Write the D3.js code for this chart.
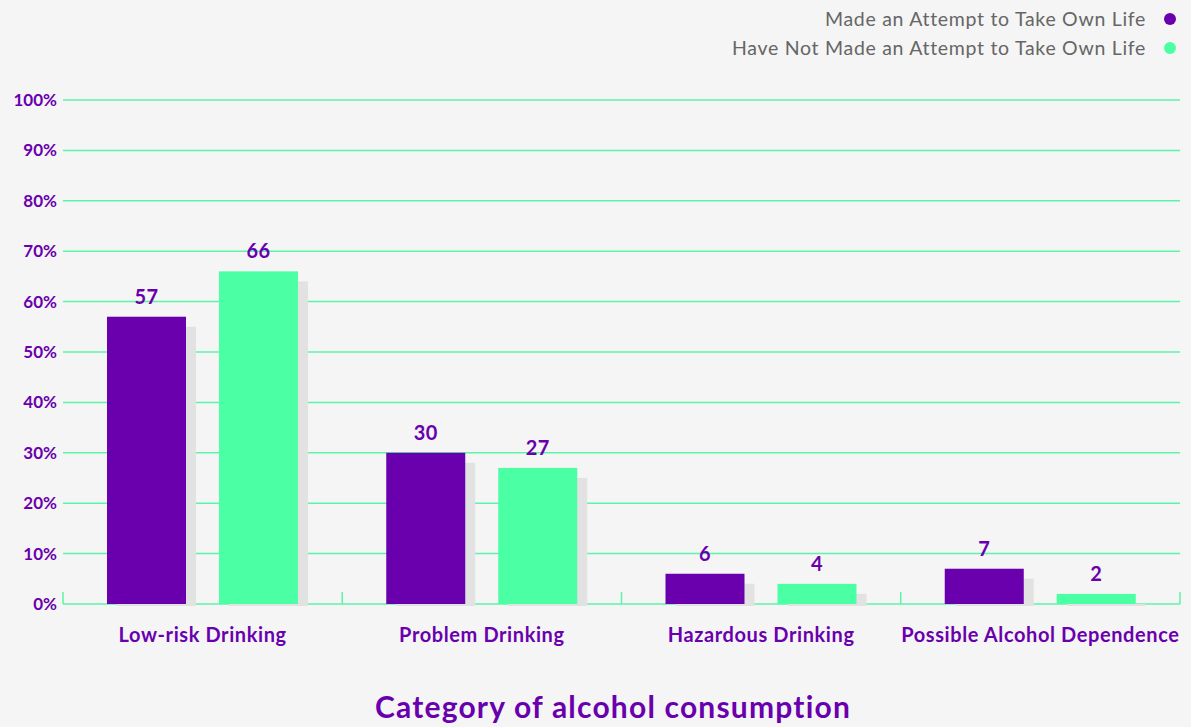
<!DOCTYPE html>
<html>
<head>
<meta charset="utf-8">
<script src="https://cdn.jsdelivr.net/npm/d3@7"></script>
<style>
  html, body { margin: 0; padding: 0; background: #f5f5f5; }
  svg { display: block; font-family: Lato, "Open Sans", sans-serif; }
</style>
</head>
<body>
<svg id="chart"></svg>
<script>
// data
const categories = ["Low-risk Drinking", "Problem Drinking", "Hazardous Drinking", "Possible Alcohol Dependence"];
const seriesNames = ["Made an Attempt to Take Own Life", "Have Not Made an Attempt to Take Own Life"];
const attempted = [57, 30, 6, 7];
const notAttempted = [66, 27, 4, 2];
const yTicks = [0, 10, 20, 30, 40, 50, 60, 70, 80, 90, 100];

const W = 1191, H = 727;
const purple = "#6a00ad", green = "#4bffa4", gridCol = "#5cf5a8", shadowCol = "#e2e2e2";

const svg = d3.select("#chart").attr("width", W).attr("height", H);
svg.append("rect").attr("width", W).attr("height", H).attr("fill", "#f5f5f5");

const plotL = 63, plotR = 1180, plotT = 100, plotB = 604;

const x = d3.scaleBand().domain(categories).range([plotL, plotR]).padding(0);
const y = d3.scaleLinear().domain([0, 100]).range([plotB, plotT]);

const rows = categories.map((c, i) => ({cat: c, vals: [attempted[i], notAttempted[i]]}));

// gridlines
svg.append("g").selectAll("line").data(yTicks).join("line")
  .attr("x1", plotL).attr("x2", plotR)
  .attr("y1", d => y(d)).attr("y2", d => y(d))
  .attr("stroke", gridCol).attr("stroke-width", 1.5);

// y labels
svg.append("g").selectAll("text").data(yTicks).join("text")
  .attr("x", 57).attr("y", d => y(d) + 6)
  .attr("text-anchor", "end")
  .attr("fill", purple).attr("font-weight", 700).attr("font-size", 17)
  .text(d => d + "%");

// category ticks on baseline
const bounds = categories.map(c => x(c)).concat([plotR]);
svg.append("g").selectAll("line").data(bounds).join("line")
  .attr("x1", d => d).attr("x2", d => d)
  .attr("y1", plotB - 12).attr("y2", plotB)
  .attr("stroke", gridCol).attr("stroke-width", 1.5);

const barW = 79, offs = [44, 156], colors = [purple, green];

const grp = svg.append("g").selectAll("g").data(rows).join("g")
  .attr("transform", d => `translate(${x(d.cat)},0)`);

// drop shadows
grp.selectAll("rect.sh").data(d => d.vals).join("rect").attr("class", "sh")
  .attr("x", (d, i) => offs[i] + 10)
  .attr("y", d => y(d) + 10)
  .attr("width", barW)
  .attr("height", d => Math.max(plotB + 2 - (y(d) + 10), 1))
  .attr("fill", shadowCol);

grp.selectAll("rect.bar").data(d => d.vals).join("rect").attr("class", "bar")
  .attr("x", (d, i) => offs[i])
  .attr("y", d => y(d))
  .attr("width", barW)
  .attr("height", d => plotB - y(d))
  .attr("fill", (d, i) => colors[i]);

grp.selectAll("text.val").data(d => d.vals).join("text").attr("class", "val")
  .attr("x", (d, i) => offs[i] + barW / 2)
  .attr("y", d => y(d) - 13)
  .attr("text-anchor", "middle")
  .attr("fill", purple).attr("font-weight", 700).attr("font-size", 20)
  .attr("letter-spacing", 0.5)
  .text(d => d);

// category labels
svg.append("g").selectAll("text").data(categories).join("text")
  .attr("x", d => x(d) + x.bandwidth() / 2)
  .attr("y", 642)
  .attr("text-anchor", "middle")
  .attr("fill", purple).attr("font-weight", 700).attr("font-size", 20)
  .attr("letter-spacing", 0.6)
  .text(d => d);

// axis title
svg.append("text")
  .attr("x", 613).attr("y", 718)
  .attr("text-anchor", "middle")
  .attr("fill", purple).attr("font-weight", 700).attr("font-size", 30)
  .attr("letter-spacing", 1.2)
  .text("Category of alcohol consumption");

// legend
const leg = svg.append("g").selectAll("g").data(seriesNames).join("g")
  .attr("transform", (d, i) => `translate(0,${19 + i * 29})`);
leg.append("text")
  .attr("x", 1146).attr("y", 6.5)
  .attr("text-anchor", "end")
  .attr("fill", "#666").attr("font-size", 19.5)
  .attr("letter-spacing", 0.7)
  .text(d => d);
leg.append("circle")
  .attr("cx", 1170).attr("cy", 0).attr("r", 6)
  .attr("fill", (d, i) => colors[i]);
</script>
</body>
</html>
